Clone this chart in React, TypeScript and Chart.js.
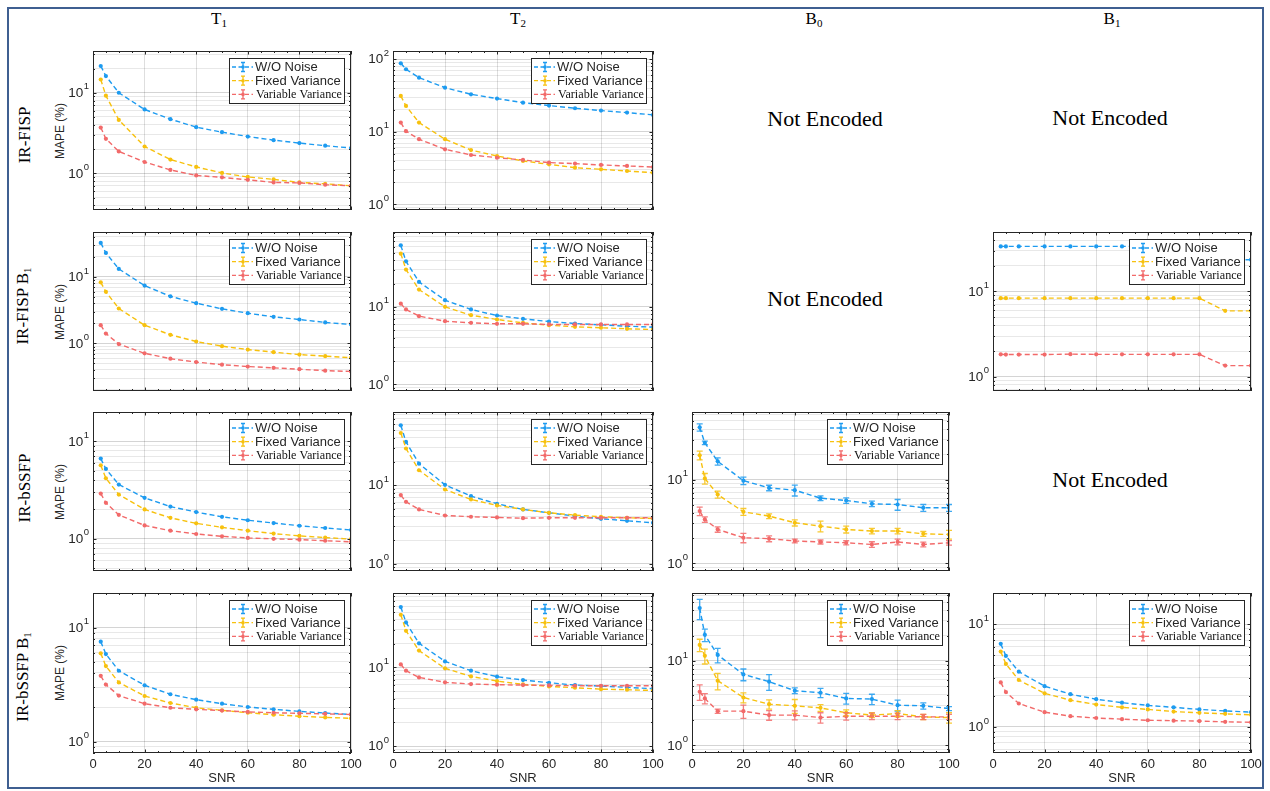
import React, { useEffect, useRef } from 'react';
import { Chart, registerables } from 'chart.js';

Chart.register(...registerables);

// ---------------- DATA ----------------
const snr = [3, 5, 10, 20, 30, 40, 50, 60, 70, 80, 90, 100];
const xTickValues = [0, 20, 40, 60, 80, 100];
const seriesLabels = ['W/O Noise', 'Fixed Variance', 'Variable Variance'];
const columnTitles = [['T', '1'], ['T', '2'], ['B', '0'], ['B', '1']];
const rowTitles = [['IR-FISP', ''], ['IR-FISP B', '1'], ['IR-bSSFP', ''], ['IR-bSSFP B', '1']];
const notEncodedLabel = 'Not Encoded';
const yAxisLabel = 'MAPE (%)';
const xAxisLabel = 'SNR';

// IR-FISP, T1
const fispT1NoNoise = [21.5, 16.1, 10.0, 6.2, 4.7, 3.74, 3.24, 2.86, 2.58, 2.37, 2.2, 2.06];
const fispT1Fixed = [14.6, 9.2, 4.6, 2.15, 1.48, 1.2, 1.01, 0.9, 0.84, 0.77, 0.74, 0.7];
const fispT1Variable = [3.7, 2.68, 1.87, 1.38, 1.1, 0.94, 0.89, 0.83, 0.77, 0.76, 0.72, 0.7];
// IR-FISP, T2
const fispT2NoNoise = [88, 72.8, 55.8, 40.6, 32.9, 28.7, 25.2, 23.0, 21.1, 19.6, 18.4, 17.1];
const fispT2Fixed = [31.2, 22.7, 13.4, 7.9, 5.6, 4.64, 3.96, 3.56, 3.2, 3.04, 2.88, 2.73];
const fispT2Variable = [13.4, 10.2, 7.9, 5.74, 4.79, 4.4, 4.09, 3.76, 3.64, 3.49, 3.38, 3.27];
// IR-FISP B1, T1
const fispB1T1NoNoise = [32.4, 22.9, 13.2, 7.4, 5.1, 4.03, 3.31, 2.85, 2.51, 2.29, 2.07, 1.93];
const fispB1T1Fixed = [8.3, 5.96, 3.35, 1.88, 1.35, 1.07, 0.91, 0.81, 0.74, 0.68, 0.645, 0.61];
const fispB1T1Variable = [1.88, 1.41, 0.98, 0.71, 0.59, 0.525, 0.48, 0.45, 0.43, 0.41, 0.39, 0.38];
// IR-FISP B1, T2
const fispB1T2NoNoise = [62.2, 38.7, 21.0, 12.2, 9.25, 7.73, 7.0, 6.47, 6.1, 5.86, 5.63, 5.47];
const fispB1T2Fixed = [48.6, 30.3, 16.7, 10.0, 7.8, 6.87, 6.22, 5.8, 5.52, 5.37, 5.21, 5.1];
const fispB1T2Variable = [11.0, 9.25, 7.59, 6.53, 6.22, 6.04, 6.04, 5.93, 5.93, 5.93, 5.93, 5.93];
// IR-FISP B1, B1
const fispB1B1NoNoise = [33.8, 33.8, 33.8, 33.8, 33.8, 33.8, 33.8, 33.8, 33.8, 33.8, 23.6, 23.6];
const fispB1B1Fixed = [8.35, 8.35, 8.35, 8.35, 8.35, 8.35, 8.35, 8.35, 8.35, 8.35, 5.93, 5.93];
const fispB1B1Variable = [1.83, 1.82, 1.82, 1.82, 1.84, 1.83, 1.83, 1.83, 1.83, 1.83, 1.35, 1.35];
// IR-bSSFP, T1
const bssfpT1NoNoise = [6.65, 5.21, 3.6, 2.63, 2.14, 1.88, 1.68, 1.55, 1.45, 1.36, 1.29, 1.23];
const bssfpT1Fixed = [5.68, 4.18, 2.84, 2.0, 1.64, 1.44, 1.31, 1.21, 1.13, 1.07, 1.03, 0.99];
const bssfpT1Variable = [2.91, 2.34, 1.76, 1.37, 1.21, 1.12, 1.06, 1.02, 1.0, 0.98, 0.955, 0.93];
// IR-bSSFP, T2
const bssfpT2NoNoise = [57.9, 35.6, 18.8, 10.1, 7.25, 5.8, 4.91, 4.45, 4.04, 3.73, 3.52, 3.32];
const bssfpT2Fixed = [46.2, 29.3, 15.5, 8.81, 6.58, 5.52, 4.91, 4.45, 4.16, 3.96, 3.84, 3.77];
const bssfpT2Variable = [7.47, 6.14, 4.91, 4.11, 3.96, 3.88, 3.8, 3.84, 3.84, 3.84, 3.84, 3.84];
// IR-bSSFP, B0 (with error bars)
const bssfpB0NoNoise = [42, 27.4, 16.5, 9.7, 7.95, 7.46, 6.0, 5.62, 5.13, 5.04, 4.6, 4.6];
const bssfpB0NoNoiseErr = [4.2, 1.3, 1.6, 1.0, 0.6, 1.1, 0.4, 0.43, 0.39, 0.74, 0.44, 0.44];
const bssfpB0Fixed = [19.5, 10.3, 6.63, 4.12, 3.66, 3.05, 2.78, 2.54, 2.43, 2.43, 2.25, 2.21];
const bssfpB0FixedErr = [2.3, 1.5, 0.63, 0.39, 0.24, 0.26, 0.41, 0.24, 0.18, 0.18, 0.15, 0.26];
const bssfpB0Variable = [4.2, 3.34, 2.54, 2.02, 1.97, 1.85, 1.8, 1.76, 1.68, 1.8, 1.68, 1.76];
const bssfpB0VariableErr = [0.49, 0.25, 0.19, 0.26, 0.16, 0.1, 0.1, 0.1, 0.13, 0.14, 0.11, 0.11];
// IR-bSSFP B1, T1
const bssfpB1T1NoNoise = [7.52, 5.86, 4.18, 3.12, 2.6, 2.33, 2.15, 2.01, 1.92, 1.84, 1.78, 1.73];
const bssfpB1T1Fixed = [5.94, 4.59, 3.3, 2.51, 2.18, 1.98, 1.88, 1.79, 1.72, 1.67, 1.63, 1.6];
const bssfpB1T1Variable = [3.77, 3.16, 2.53, 2.15, 1.98, 1.92, 1.87, 1.82, 1.79, 1.77, 1.75, 1.73];
// IR-bSSFP B1, T2
const bssfpB1T2NoNoise = [58.3, 37.2, 20.2, 11.9, 9.06, 7.6, 6.89, 6.37, 5.95, 5.78, 5.56, 5.35];
const bssfpB1T2Fixed = [46.6, 29.1, 16.3, 9.71, 7.67, 6.69, 6.07, 5.72, 5.5, 5.28, 5.19, 5.08];
const bssfpB1T2Variable = [10.9, 9.06, 7.45, 6.44, 6.13, 6.01, 5.95, 5.89, 5.83, 5.83, 5.83, 5.83];
// IR-bSSFP B1, B0 (with error bars)
const bssfpB1B0NoNoise = [42.4, 20.4, 11.8, 6.93, 5.68, 4.44, 4.2, 3.6, 3.53, 2.99, 2.94, 2.73];
const bssfpB1B0NoNoiseErr = [11.5, 3.4, 2.3, 1.1, 1.2, 0.35, 0.53, 0.53, 0.5, 0.45, 0.25, 0.15];
const bssfpB1B0Fixed = [15.5, 11.5, 5.84, 3.69, 3.07, 2.94, 2.78, 2.43, 2.28, 2.38, 2.17, 2.13];
const bssfpB1B0FixedErr = [2.6, 2.3, 1.3, 0.5, 0.38, 0.55, 0.25, 0.2, 0.15, 0.2, 0.15, 0.3];
const bssfpB1B0Variable = [4.31, 3.6, 2.54, 2.54, 2.28, 2.28, 2.13, 2.21, 2.21, 2.21, 2.17, 2.17];
const bssfpB1B0VariableErr = [0.9, 0.5, 0.15, 0.45, 0.3, 0.28, 0.3, 0.22, 0.2, 0.2, 0.15, 0.15];
// IR-bSSFP B1, B1
const bssfpB1B1NoNoise = [6.43, 4.91, 3.45, 2.49, 2.08, 1.86, 1.72, 1.62, 1.55, 1.48, 1.43, 1.39];
const bssfpB1B1Fixed = [5.41, 4.1, 2.86, 2.12, 1.82, 1.65, 1.55, 1.48, 1.41, 1.37, 1.34, 1.31];
const bssfpB1B1Variable = [2.71, 2.18, 1.69, 1.39, 1.27, 1.22, 1.19, 1.16, 1.15, 1.14, 1.12, 1.11];

// ---------------- CONFIG ----------------
const panels: any[] = [
  { row: 0, col: 0, series: [fispT1NoNoise, fispT1Fixed, fispT1Variable], yMin: 0.35, yMax: 33 },
  { row: 0, col: 1, series: [fispT2NoNoise, fispT2Fixed, fispT2Variable], yMin: 0.835, yMax: 130 },
  { row: 1, col: 0, series: [fispB1T1NoNoise, fispB1T1Fixed, fispB1T1Variable], yMin: 0.193, yMax: 47.3 },
  { row: 1, col: 1, series: [fispB1T2NoNoise, fispB1T2Fixed, fispB1T2Variable], yMin: 0.82, yMax: 92.5 },
  { row: 1, col: 3, series: [fispB1B1NoNoise, fispB1B1Fixed, fispB1B1Variable], yMin: 0.68, yMax: 49.9 },
  { row: 2, col: 0, series: [bssfpT1NoNoise, bssfpT1Fixed, bssfpT1Variable], yMin: 0.467, yMax: 20 },
  { row: 2, col: 1, series: [bssfpT2NoNoise, bssfpT2Fixed, bssfpT2Variable], yMin: 0.807, yMax: 85.5 },
  {
    row: 2, col: 2, series: [bssfpB0NoNoise, bssfpB0Fixed, bssfpB0Variable],
    errors: [bssfpB0NoNoiseErr, bssfpB0FixedErr, bssfpB0VariableErr], yMin: 0.81, yMax: 64,
  },
  { row: 3, col: 0, series: [bssfpB1T1NoNoise, bssfpB1T1Fixed, bssfpB1T1Variable], yMin: 0.794, yMax: 20.1 },
  { row: 3, col: 1, series: [bssfpB1T2NoNoise, bssfpB1T2Fixed, bssfpB1T2Variable], yMin: 0.815, yMax: 88 },
  {
    row: 3, col: 2, series: [bssfpB1B0NoNoise, bssfpB1B0Fixed, bssfpB1B0Variable],
    errors: [bssfpB1B0NoNoiseErr, bssfpB1B0FixedErr, bssfpB1B0VariableErr], yMin: 0.81, yMax: 64,
  },
  { row: 3, col: 3, series: [bssfpB1B1NoNoise, bssfpB1B1Fixed, bssfpB1B1Variable], yMin: 0.557, yMax: 20.1 },
];

const notEncodedCells = [
  { x: 825, y: 119 },
  { x: 1110, y: 118 },
  { x: 825, y: 299 },
  { x: 1110, y: 480 },
];

const seriesColors = ['#1D9BF0', '#F7C10E', '#F26A6A'];
const colLeft = [93, 393, 692, 993];
const colWidth = [258, 260, 257, 258];
const rowTop = [51, 232, 412, 593];
const plotH = 160;
const colTitleX = [219, 518, 814, 1112];
const rowTitleY = [135, 306, 488, 677];

const SANS = '"Liberation Sans", Arial, Helvetica, sans-serif';
const SERIF = '"Liberation Serif", "Times New Roman", serif';
const AXIS_COLOR = '#262626';

function logTicks(min: number, max: number) {
  const out: any[] = [];
  const k0 = Math.floor(Math.log10(min));
  const k1 = Math.ceil(Math.log10(max));
  for (let k = k0; k <= k1; k++) {
    for (let d = 1; d <= 9; d++) {
      const v = d * Math.pow(10, k);
      if (v >= min && v <= max) out.push({ value: v, major: d === 1 });
    }
  }
  return out;
}

function makeDecorPlugin(p: any) {
  return {
    id: 'panelDecor',
    afterDatasetsDraw(chart: any) {
      if (!p.errors) return;
      const ctx = chart.ctx;
      const xs = chart.scales.x;
      const ys = chart.scales.y;
      ctx.save();
      p.errors.forEach((errs: number[], si: number) => {
        ctx.strokeStyle = seriesColors[si];
        ctx.globalAlpha = 0.85;
        ctx.lineWidth = 1.3;
        errs.forEach((e, i) => {
          const v = p.series[si][i];
          const px = xs.getPixelForValue(snr[i]);
          const top = ys.getPixelForValue(v + e);
          const bot = ys.getPixelForValue(Math.max(v - e, 1e-6));
          ctx.beginPath();
          ctx.moveTo(px, top);
          ctx.lineTo(px, bot);
          ctx.moveTo(px - 3, top);
          ctx.lineTo(px + 3, top);
          ctx.moveTo(px - 3, bot);
          ctx.lineTo(px + 3, bot);
          ctx.stroke();
        });
      });
      ctx.restore();
    },
    afterDraw(chart: any) {
      const ctx = chart.ctx;
      const ca = chart.chartArea;
      const xs = chart.scales.x;
      const ys = chart.scales.y;
      ctx.save();
      // inward tick marks
      ctx.strokeStyle = AXIS_COLOR;
      ctx.lineWidth = 1;
      ctx.beginPath();
      for (let v = 0; v <= 100; v += 5) {
        const px = Math.round(xs.getPixelForValue(v)) + 0.5;
        const len = v % 20 === 0 ? 3.5 : 2;
        ctx.moveTo(px, ca.bottom);
        ctx.lineTo(px, ca.bottom - len);
        ctx.moveTo(px, ca.top);
        ctx.lineTo(px, ca.top + len);
      }
      ys.ticks.forEach((t: any) => {
        const py = Math.round(ys.getPixelForValue(t.value)) + 0.5;
        const len = t.major ? 3.5 : 2;
        ctx.moveTo(ca.left, py);
        ctx.lineTo(ca.left + len, py);
        ctx.moveTo(ca.right, py);
        ctx.lineTo(ca.right - len, py);
      });
      ctx.stroke();
      // box
      ctx.strokeRect(Math.round(ca.left) + 0.5, Math.round(ca.top) + 0.5,
        Math.round(ca.right - ca.left) - 1, Math.round(ca.bottom - ca.top) - 1);
      // y tick labels 10^k
      ctx.fillStyle = AXIS_COLOR;
      ys.ticks.forEach((t: any) => {
        if (!t.major) return;
        const ex = String(Math.round(Math.log10(t.value)));
        const py = ys.getPixelForValue(t.value);
        ctx.font = '9.5px ' + SANS;
        const ew = ctx.measureText(ex).width;
        ctx.textAlign = 'left';
        ctx.textBaseline = 'middle';
        const ex0 = ca.left - 4 - ew;
        ctx.fillText(ex, ex0, py - 6);
        ctx.font = '13.5px ' + SANS;
        ctx.textAlign = 'right';
        ctx.fillText('10', ex0 - 0.5, py + 0.5);
      });
      // legend
      const lw = 115;
      const lh = 45;
      const lx = Math.round(ca.right - 7 - lw);
      const ly = Math.round(ca.top + 7);
      ctx.fillStyle = '#ffffff';
      ctx.fillRect(lx, ly, lw, lh);
      ctx.strokeStyle = AXIS_COLOR;
      ctx.lineWidth = 1;
      ctx.strokeRect(lx + 0.5, ly + 0.5, lw, lh);
      seriesLabels.forEach((lab, i) => {
        const cy = ly + 9 + i * 13.7;
        ctx.strokeStyle = seriesColors[i];
        ctx.lineWidth = 1.3;
        ctx.setLineDash([4, 2.5]);
        ctx.beginPath();
        ctx.moveTo(lx + 3, cy);
        ctx.lineTo(lx + 24, cy);
        ctx.stroke();
        ctx.setLineDash([]);
        ctx.beginPath();
        const ix = lx + 14;
        ctx.moveTo(ix, cy - 4.5);
        ctx.lineTo(ix, cy + 4.5);
        ctx.moveTo(ix - 2, cy - 4.5);
        ctx.lineTo(ix + 2, cy - 4.5);
        ctx.moveTo(ix - 2, cy + 4.5);
        ctx.lineTo(ix + 2, cy + 4.5);
        ctx.stroke();
        ctx.fillStyle = seriesColors[i];
        ctx.beginPath();
        ctx.arc(ix, cy, 1.8, 0, Math.PI * 2);
        ctx.fill();
        ctx.textAlign = 'left';
        ctx.textBaseline = 'middle';
        if (i < 2) {
          ctx.font = '13px ' + SANS;
          ctx.fillStyle = AXIS_COLOR;
          ctx.fillText(lab, lx + 26, cy + 0.5);
        } else {
          ctx.font = '12.3px ' + SERIF;
          ctx.fillStyle = '#111111';
          ctx.fillText(lab, lx + 27, cy + 0.5, lw - 29);
        }
      });
      ctx.restore();
    },
  };
}

function Panel({ p }: { p: any }) {
  const ref = useRef<HTMLCanvasElement>(null);
  const bottom = p.row === 3;
  const padL = 55;
  const padR = 20;
  const padT = 10;
  const padB = 3;
  const axisH = bottom ? 33 : 0;
  const W = colWidth[p.col];
  const cw = padL + W + padR;
  const ch = padT + plotH + axisH + padB;

  useEffect(() => {
    if (!ref.current) return;
    const datasets = p.series.map((vals: number[], si: number) => ({
      label: seriesLabels[si],
      data: snr.map((x, i) => ({ x, y: vals[i] })),
      borderColor: seriesColors[si],
      backgroundColor: seriesColors[si],
      borderDash: [5, 3],
      borderWidth: 1.4,
      pointRadius: 2.1,
      pointBorderWidth: 0,
      pointBackgroundColor: seriesColors[si],
      tension: 0,
      fill: false,
      order: 3 - si,
    }));
    const chart = new Chart(ref.current, {
      type: 'line',
      data: { datasets },
      options: {
        animation: false,
        responsive: false,
        maintainAspectRatio: false,
        events: [],
        layout: { padding: { left: 0, right: padR, top: padT, bottom: padB } },
        plugins: { legend: { display: false }, tooltip: { enabled: false } },
        scales: {
          x: {
            type: 'linear',
            min: 0,
            max: 100,
            afterBuildTicks: (s: any) => { s.ticks = xTickValues.map((v) => ({ value: v })); },
            afterFit: (s: any) => { s.height = axisH; },
            grid: { color: 'rgba(0,0,0,0.13)', drawTicks: false, lineWidth: 1 },
            border: { display: false },
            ticks: {
              display: bottom,
              color: AXIS_COLOR,
              font: { family: SANS, size: 13 },
              padding: 4,
              maxRotation: 0,
              autoSkip: false,
            },
            title: {
              display: bottom,
              text: xAxisLabel,
              color: AXIS_COLOR,
              font: { family: SANS, size: 13 },
              padding: 0,
            },
          },
          y: {
            type: 'logarithmic',
            min: p.yMin,
            max: p.yMax,
            afterBuildTicks: (s: any) => { s.ticks = logTicks(p.yMin, p.yMax); },
            afterFit: (s: any) => { s.width = padL; },
            grid: {
              color: (c: any) => (c.tick && c.tick.major ? 'rgba(0,0,0,0.17)' : 'rgba(0,0,0,0.09)'),
              drawTicks: false,
              lineWidth: 1,
            },
            border: { display: false },
            ticks: { display: false },
          },
        },
      } as any,
      plugins: [makeDecorPlugin(p)],
    } as any);
    return () => chart.destroy();
  }, []);

  return (
    <canvas
      ref={ref}
      width={cw}
      height={ch}
      style={{
        position: 'absolute',
        left: colLeft[p.col] - padL,
        top: rowTop[p.row] - padT,
        width: cw,
        height: ch,
      }}
    />
  );
}

export default function App() {
  return (
    <div
      style={{
        position: 'absolute',
        left: 0,
        top: 0,
        width: 1270,
        height: 791,
        overflow: 'hidden',
        background: '#ffffff',
      }}
    >
      <div
        style={{
          position: 'absolute',
          left: 7,
          top: 7,
          width: 1257,
          height: 782,
          boxSizing: 'border-box',
          border: '2px solid #3f5f91',
        }}
      />
      {columnTitles.map((t, i) => (
        <div
          key={'c' + i}
          style={{
            position: 'absolute',
            left: colTitleX[i] - 50,
            top: 9,
            width: 100,
            textAlign: 'center',
            fontFamily: SERIF,
            fontSize: 17,
            lineHeight: '20px',
            color: '#000',
          }}
        >
          {t[0]}
          <sub style={{ fontSize: 11, verticalAlign: '-3px' }}>{t[1]}</sub>
        </div>
      ))}
      {rowTitles.map((t, i) => (
        <div
          key={'r' + i}
          style={{
            position: 'absolute',
            left: 25,
            top: rowTitleY[i],
            transform: 'translate(-50%, -50%) rotate(-90deg)',
            whiteSpace: 'nowrap',
            fontFamily: SERIF,
            fontSize: 17,
            lineHeight: '20px',
            color: '#000',
          }}
        >
          {t[0]}
          {t[1] ? <sub style={{ fontSize: 11, verticalAlign: '-3px' }}>{t[1]}</sub> : null}
        </div>
      ))}
      {rowTop.map((top, i) => (
        <div
          key={'m' + i}
          style={{
            position: 'absolute',
            left: 60,
            top: top + plotH / 2,
            transform: 'translate(-50%, -50%) rotate(-90deg)',
            whiteSpace: 'nowrap',
            fontFamily: SANS,
            fontSize: 12,
            lineHeight: '14px',
            color: AXIS_COLOR,
          }}
        >
          {yAxisLabel}
        </div>
      ))}
      {notEncodedCells.map((c, i) => (
        <div
          key={'n' + i}
          style={{
            position: 'absolute',
            left: c.x,
            top: c.y,
            transform: 'translate(-50%, -50%)',
            whiteSpace: 'nowrap',
            fontFamily: SERIF,
            fontSize: 22,
            lineHeight: '26px',
            color: '#000',
          }}
        >
          {notEncodedLabel}
        </div>
      ))}
      {panels.map((p, i) => (
        <Panel key={'p' + i} p={p} />
      ))}
    </div>
  );
}
